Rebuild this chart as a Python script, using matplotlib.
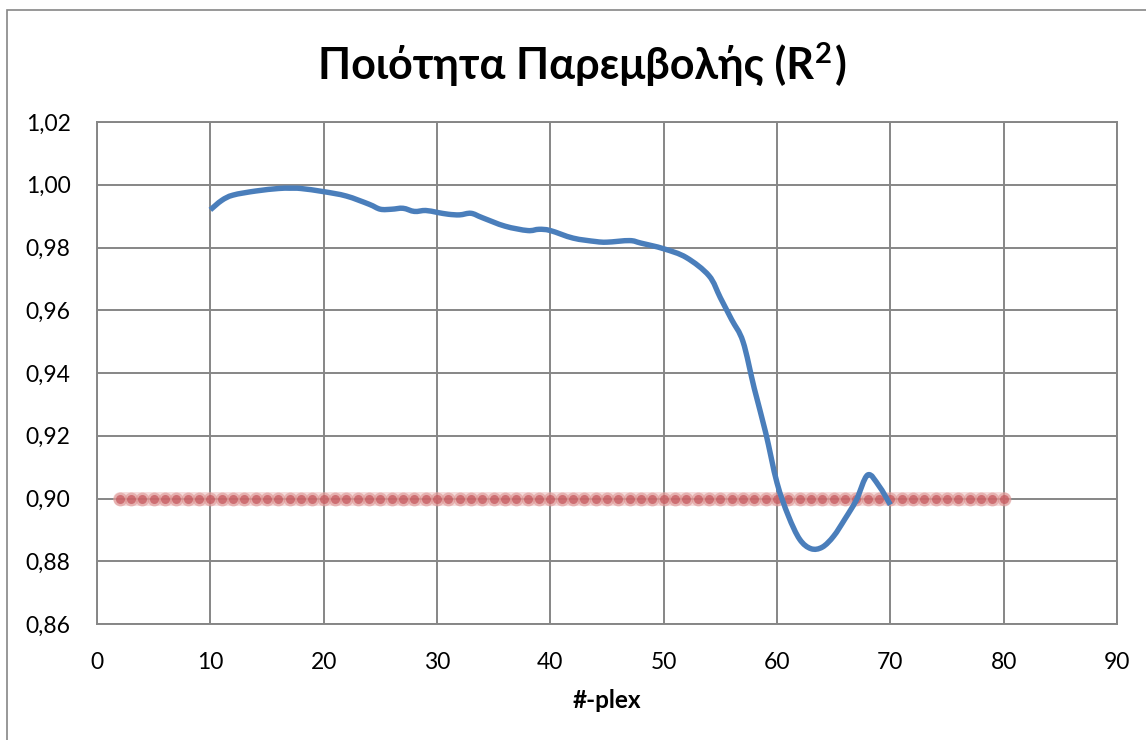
import numpy as np
import matplotlib
matplotlib.use('Agg')
import matplotlib.pyplot as plt
from matplotlib.ticker import FuncFormatter, MultipleLocator
from matplotlib.patches import Rectangle, PathPatch
from matplotlib.path import Path

plt.rcParams['font.family'] = ['Lato', 'DejaVu Sans']

# R^2 per n-plex
plex = [10, 11, 12, 14, 16, 17, 18, 20, 22, 24, 25, 26, 27, 28, 29, 30, 31, 32, 33, 34,
        36, 38, 39, 40, 42, 44, 45, 47, 48, 50, 52, 54, 55, 56, 57, 58, 59, 60,
        61, 62, 63, 64, 65, 66, 67, 68, 69, 70]
r2 = [0.9920, 0.9950, 0.9967, 0.9980, 0.9988, 0.9989, 0.9988, 0.9978, 0.9964, 0.9938,
      0.9922, 0.9922, 0.9925, 0.9915, 0.9918, 0.9912, 0.9906, 0.9904, 0.9909, 0.9895,
      0.9868, 0.9854, 0.9858, 0.9854, 0.9830, 0.9819, 0.9817, 0.9822, 0.9814, 0.9796,
      0.9768, 0.9710, 0.9640, 0.9570, 0.9500, 0.9350, 0.9210, 0.9050,
      0.8945, 0.8870, 0.8840, 0.8845, 0.8880, 0.8935, 0.8995, 0.9075, 0.9040, 0.8980]

# threshold line 0.90
thr_x = list(range(2, 81))
thr_y = [0.90] * len(thr_x)

title = 'Ποιότητα Παρεμβολής (R'
title_sup = '2'
title_end = ')'
xlabel = '#-plex'


def smooth_path(xs, ys):
    # excel-like smoothed line: bezier segments through the points
    p = np.column_stack([xs, ys]).astype(float)
    verts = [p[0]]
    codes = [Path.MOVETO]
    n = len(p)
    for i in range(n - 1):
        p0 = p[i - 1] if i > 0 else p[i]
        p3 = p[i + 2] if i + 2 < n else p[i + 1]
        c1 = p[i] + (p[i + 1] - p0) / 6.0
        c2 = p[i + 1] - (p3 - p[i]) / 6.0
        verts += [c1, c2, p[i + 1]]
        codes += [Path.CURVE4] * 3
    return Path(verts, codes)


fig = plt.figure(figsize=(11.46, 7.4), dpi=100)
ax = fig.add_axes([97/1146, 1 - 624/740, (1117-97)/1146, (624-122)/740])

# outer chart border
fig.patches.append(Rectangle((7/1146, -0.1), 1.2, 1 - 10/740 + 0.1, transform=fig.transFigure,
                             fill=False, edgecolor='#868686', linewidth=1.2))

ax.set_xlim(0, 90)
ax.set_ylim(0.86, 1.02)
ax.xaxis.set_major_locator(MultipleLocator(10))
ax.yaxis.set_major_locator(MultipleLocator(0.02))
ax.yaxis.set_major_formatter(FuncFormatter(lambda v, p: ('%.2f' % v).replace('.', ',')))
ax.grid(True, color='#868686', linewidth=1.4)
ax.set_axisbelow(True)
for s in ax.spines.values():
    s.set_color('#868686')
    s.set_linewidth(1.4)
ax.tick_params(length=0, labelsize=16.5, colors='black')
ax.tick_params(axis='y', pad=19)
ax.tick_params(axis='x', pad=20)

# blurred red threshold
ax.plot(thr_x, thr_y, color='#e8b4b3', linewidth=10, alpha=0.45, solid_capstyle='round', zorder=3)
ax.plot(thr_x, thr_y, linestyle='none', marker='o', markersize=10, color='#dc8e8c',
        markeredgewidth=0, alpha=0.55, zorder=3)
ax.plot(thr_x, thr_y, linestyle='none', marker='o', markersize=6.5, color='#c4545a',
        markeredgewidth=0, alpha=0.7, zorder=3)

ax.add_patch(PathPatch(smooth_path(plex, r2), facecolor='none', edgecolor='#4a7ebb',
                       linewidth=3.9, joinstyle='round', capstyle='butt', zorder=4))

# title: main part, bigger superscript 2, closing bracket
t1 = fig.text(318/1146, 1 - 65/740, title, ha='left', va='center', fontsize=31, fontweight='bold')
fig.canvas.draw()
bb = t1.get_window_extent()
t2 = fig.text(bb.x1 / 1146 + 0.001, 1 - 55/740, title_sup, ha='left', va='center',
              fontsize=21, fontweight='bold')
fig.canvas.draw()
bb2 = t2.get_window_extent()
fig.text(bb2.x1 / 1146 + 0.002, 1 - 65/740, title_end, ha='left', va='center',
         fontsize=31, fontweight='bold')

ax.set_xlabel(xlabel, fontsize=17.5, fontweight='bold', labelpad=12)

fig.savefig('out.png', dpi=100)
